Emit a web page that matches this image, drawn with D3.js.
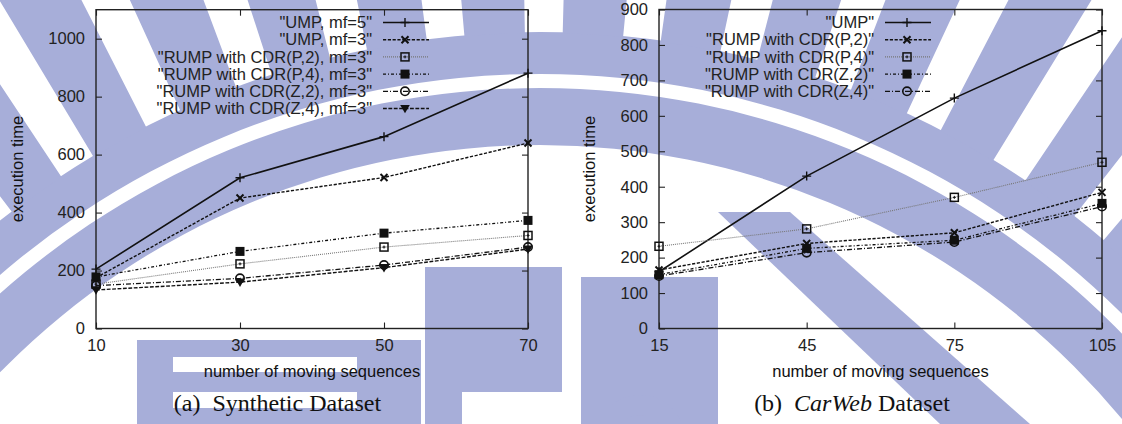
<!DOCTYPE html>
<html>
<head>
<meta charset="utf-8">
<script src="https://cdn.jsdelivr.net/npm/d3@7"></script>
<style>
  body { margin: 0; background: #fff; }
  svg { display: block; }
</style>
</head>
<body>
<script>
const W = 1122, H = 424;

// (a) synthetic dataset
const synthX = [10, 30, 50, 70];
const synthXTicks = [10, 30, 50, 70];
const synthYTicks = [0, 200, 400, 600, 800, 1000];
const synthNames = ['"UMP, mf=5"', '"UMP, mf=3"', '"RUMP with CDR(P,2), mf=3"',
  '"RUMP with CDR(P,4), mf=3"', '"RUMP with CDR(Z,2), mf=3"', '"RUMP with CDR(Z,4), mf=3"'];
const synthUmp5 = [205, 520, 662, 881];
const synthUmp3 = [175, 450, 521, 640];
const synthP2 = [153, 223, 281, 321];
const synthP4 = [178, 266, 329, 373];
const synthZ2 = [148, 173, 219, 281];
const synthZ4 = [133, 160, 210, 274];

// (b) CarWeb dataset
const carX = [15, 45, 75, 105];
const carXTicks = [15, 45, 75, 105];
const carYTicks = [0, 100, 200, 300, 400, 500, 600, 700, 800, 900];
const carNames = ['"UMP"', '"RUMP with CDR(P,2)"', '"RUMP with CDR(P,4)"',
  '"RUMP with CDR(Z,2)"', '"RUMP with CDR(Z,4)"'];
const carUmp = [160, 430, 650, 840];
const carP2 = [165, 240, 270, 384];
const carP4 = [232, 281, 370, 469];
const carZ2 = [152, 226, 249, 353];
const carZ4 = [148, 214, 244, 344];

// gnuplot-like line types, in order
const styles = [
  {dash: null, color: "#111", width: 1.6, marker: "plus"},
  {dash: "3.2,1.6", color: "#111", width: 1.4, marker: "cross"},
  {dash: "1,1", color: "#777", width: 1.1, marker: "boxplus"},
  {dash: "3,2,1,2", color: "#111", width: 1.3, marker: "fsquare"},
  {dash: "5,2,1,2", color: "#111", width: 1.3, marker: "circle"},
  {dash: "3.8,1.6", color: "#111", width: 1.4, marker: "ftri"}
];

const sans = "'Liberation Sans', Arial, Helvetica, sans-serif";
const serif = "'Liberation Serif', 'Times New Roman', serif";
const fs = 16.5;

const svg = d3.select("body").append("svg")
  .attr("width", W).attr("height", H);

svg.append("rect").attr("width", W).attr("height", H).attr("fill", "#fff");

// faint logo watermark behind the charts
function drawWatermark() {
  const blue = "#a7aed9";
  const g = svg.append("g");
  const c = g.append("g").attr("transform", "translate(540,900)");
  const deg = Math.PI / 180;
  c.append("path").attr("fill", blue)
    .attr("d", d3.arc().innerRadius(755).outerRadius(868)
      .startAngle(-90 * deg).endAngle(90 * deg)());
  c.append("path").attr("fill", "#fff")
    .attr("d", d3.arc().innerRadius(812).outerRadius(826)
      .startAngle(-90 * deg).endAngle(90 * deg)());
  d3.range(-68, 70, 6.5).forEach(a => {
    c.append("path").attr("fill", blue)
      .attr("d", d3.arc().innerRadius(867).outerRadius(1200)
        .startAngle((a - 2) * deg).endAngle((a + 2) * deg)());
  });
  const b = g.append("g").attr("fill", blue);
  b.append("rect").attr("x", 137).attr("y", 340).attr("width", 284).attr("height", 84);
  b.append("rect").attr("x", 425).attr("y", 267).attr("width", 137).attr("height", 157);
  b.append("rect").attr("x", 581).attr("y", 277).attr("width", 137).attr("height", 147);
  b.append("path").attr("d", "M718,212L790,212L1030,424L940,424Z");
  const w = g.append("g").attr("fill", "#fff");
  w.append("rect").attr("x", 173).attr("y", 357).attr("width", 184).attr("height", 15);
  w.append("rect").attr("x", 173).attr("y", 392).attr("width", 184).attr("height", 16);
  w.append("rect").attr("x", 462).attr("y", 392).attr("width", 100).attr("height", 32);
  g.append("circle").attr("cx", 640).attr("cy", 440).attr("r", 35)
    .attr("fill", "none").attr("stroke", blue).attr("stroke-width", 20);
}
drawWatermark();

function marker(sel, type, color) {
  if (type === "plus") {
    sel.append("path").attr("d", "M-4.5,0H4.5M0,-4.5V4.5")
      .attr("stroke", color).attr("stroke-width", 1.4).attr("fill", "none");
  } else if (type === "cross") {
    sel.append("path").attr("d", "M-3.5,-3.5L3.5,3.5M-3.5,3.5L3.5,-3.5")
      .attr("stroke", "#111").attr("stroke-width", 2).attr("fill", "none");
  } else if (type === "boxplus") {
    sel.append("rect").attr("x", -4).attr("y", -4).attr("width", 8).attr("height", 8)
      .attr("stroke", "#111").attr("stroke-width", 1.5).attr("fill", "none");
    sel.append("path").attr("d", "M-1.5,0H1.5M0,-1.5V1.5")
      .attr("stroke", "#111").attr("stroke-width", 1).attr("fill", "none");
  } else if (type === "fsquare") {
    sel.append("rect").attr("x", -4.5).attr("y", -4.5).attr("width", 9).attr("height", 9)
      .attr("fill", "#111");
  } else if (type === "circle") {
    sel.append("circle").attr("r", 4.2)
      .attr("stroke", "#111").attr("stroke-width", 1.6).attr("fill", "none");
  } else if (type === "ftri") {
    sel.append("path").attr("d", "M-4.8,-3.6L4.8,-3.6L0,4.8Z").attr("fill", "#111");
  }
}

function drawChart(opt) {
  const x = d3.scaleLinear().domain(opt.xDomain).range([opt.left, opt.right]);
  const y = d3.scaleLinear().domain(opt.yDomain).range([opt.bottom, opt.top]);
  const g = svg.append("g");

  const axisFont = a => a.attr("font-family", sans).attr("font-size", fs)
    .call(s => s.select(".domain").remove())
    .call(s => s.selectAll("line").attr("stroke", "#222").attr("stroke-width", 1.1))
    .call(s => s.selectAll("text").attr("fill", "#222"));

  g.append("g").attr("transform", `translate(${opt.left},0)`)
    .call(d3.axisLeft(y).tickValues(opt.yTicks).tickFormat(d3.format("d"))
      .tickSize(-6).tickPadding(11))
    .call(axisFont);
  g.append("g").attr("transform", `translate(${opt.right},0)`)
    .call(d3.axisRight(y).tickValues(opt.yTicks).tickSize(-6).tickFormat(""))
    .call(axisFont);
  g.append("g").attr("transform", `translate(0,${opt.bottom})`)
    .call(d3.axisBottom(x).tickValues(opt.xTicks).tickFormat(d3.format("d"))
      .tickSize(-6).tickPadding(11))
    .call(axisFont);
  g.append("g").attr("transform", `translate(0,${opt.top})`)
    .call(d3.axisTop(x).tickValues(opt.xTicks).tickSize(-6).tickFormat(""))
    .call(axisFont);

  g.append("rect")
    .attr("x", opt.left).attr("y", opt.top)
    .attr("width", opt.right - opt.left).attr("height", opt.bottom - opt.top)
    .attr("fill", "none").attr("stroke", "#222").attr("stroke-width", 1.4);

  const line = d3.line().x((d, i) => x(opt.xs[i])).y(d => y(d));

  opt.series.forEach((vals, k) => {
    const st = styles[k];
    g.append("path").datum(vals)
      .attr("d", line)
      .attr("fill", "none")
      .attr("stroke", st.color)
      .attr("stroke-width", st.width)
      .attr("stroke-dasharray", st.dash);
    vals.forEach((v, i) => {
      const m = g.append("g").attr("transform", `translate(${x(opt.xs[i])},${y(v)})`);
      marker(m, st.marker, st.color);
    });
  });

  // legend (gnuplot style, top right inside the frame)
  const lg = g.append("g");
  opt.names.forEach((name, k) => {
    const st = styles[k];
    const ly = opt.legendY + k * 17.2;
    lg.append("text")
      .attr("x", opt.legendX).attr("y", ly).attr("dy", "0.35em")
      .attr("text-anchor", "end")
      .attr("font-family", sans).attr("font-size", fs).attr("fill", "#222")
      .text(name);
    lg.append("line")
      .attr("x1", opt.legendX + 11).attr("x2", opt.legendX + 57)
      .attr("y1", ly).attr("y2", ly)
      .attr("stroke", st.color).attr("stroke-width", st.width)
      .attr("stroke-dasharray", st.dash);
    marker(lg.append("g").attr("transform", `translate(${opt.legendX + 33},${ly})`), st.marker, st.color);
  });

  // axis titles
  g.append("text")
    .attr("x", (opt.left + opt.right) / 2).attr("y", 377)
    .attr("text-anchor", "middle")
    .attr("font-family", sans).attr("font-size", fs).attr("fill", "#111")
    .text("number of moving sequences");
  g.append("text")
    .attr("transform", `translate(${opt.yLabelX},${(opt.top + opt.bottom) / 2}) rotate(-90)`)
    .attr("dy", "0.35em")
    .attr("text-anchor", "middle")
    .attr("font-family", sans).attr("font-size", fs).attr("fill", "#111")
    .text("execution time");

  // sub-figure caption
  const cap = g.append("text")
    .attr("x", opt.captionX).attr("y", 411)
    .attr("text-anchor", "middle")
    .attr("font-family", serif).attr("font-size", 24).attr("fill", "#111");
  cap.append("tspan").text(opt.caption[0]);
  opt.caption.slice(1).forEach(p => {
    cap.append("tspan").attr("font-style", p.italic ? "italic" : null).text(p.text);
  });
}

drawChart({
  xs: synthX, xDomain: [10, 70], yDomain: [0, 1100],
  xTicks: synthXTicks, yTicks: synthYTicks,
  left: 96, right: 528, top: 9.7, bottom: 328.5,
  series: [synthUmp5, synthUmp3, synthP2, synthP4, synthZ2, synthZ4],
  names: synthNames, legendX: 372, legendY: 22.5,
  yLabelX: 17, captionX: 277.5,
  caption: ["(a)", {text: "\u2002Synthetic Dataset"}]
});

drawChart({
  xs: carX, xDomain: [15, 105], yDomain: [0, 900],
  xTicks: carXTicks, yTicks: carYTicks,
  left: 659, right: 1102, top: 9.5, bottom: 328.5,
  series: [carUmp, carP2, carP4, carZ2, carZ4],
  names: carNames, legendX: 874, legendY: 22.5,
  yLabelX: 589, captionX: 852,
  caption: ["(b)", {text: "\u2002"}, {text: "CarWeb", italic: true}, {text: " Dataset"}]
});
</script>
</body>
</html>
